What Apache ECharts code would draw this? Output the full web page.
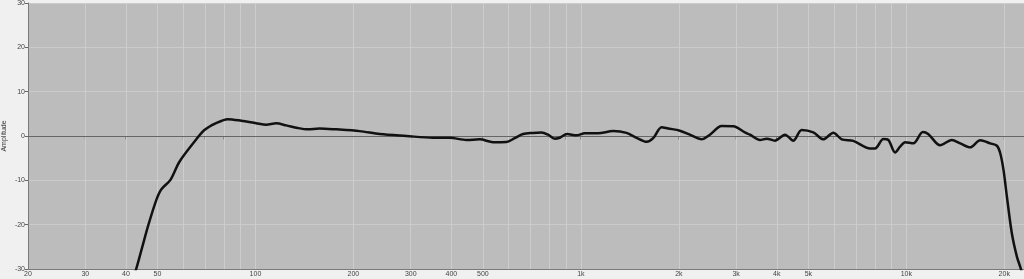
<!DOCTYPE html>
<html><head><meta charset="utf-8">
<script src="https://cdn.jsdelivr.net/npm/echarts@6/dist/echarts.min.js"></script>
<style>html,body{margin:0;padding:0;background:#f0f0f0}#c{width:1024px;height:279px}</style>
</head><body><div id="c"></div>
<script>
const freqs = [42, 43.0, 44.9, 46.9, 49.6, 51.4, 54.8, 58.4, 64.9, 69.7, 75.7, 82.2, 90.4, 100.5, 107.9, 115.8, 124.3, 134.9, 144.8, 157.4, 177, 209, 241, 291, 351, 395, 445, 489, 537, 590, 626, 664, 713, 756, 793, 831, 861, 907, 969, 1028, 1129, 1256, 1381, 1483, 1592, 1668, 1770, 1855, 2015, 2163, 2350, 2492, 2707, 2940, 3193, 3308, 3552, 3724, 3948, 4240, 4495, 4770, 5180, 5559, 5968, 6334, 6875, 7740, 8017, 8504, 8810, 9240, 9572, 9916, 10515, 11240, 11700, 12700, 13800, 14640, 15710, 16870, 18110, 18990, 19440, 19900, 20380, 21110, 21870, 22500, 23000];
const gains = [-32, -30, -25, -20, -14.4, -12, -9.9, -5.8, -1.3, 1.35, 2.9, 3.8, 3.45, 2.9, 2.55, 2.85, 2.4, 1.8, 1.5, 1.7, 1.5, 1.1, 0.45, 0, -0.4, -0.4, -0.9, -0.75, -1.4, -1.35, -0.5, 0.45, 0.7, 0.8, 0.3, -0.6, -0.4, 0.45, 0.15, 0.6, 0.6, 1.1, 0.7, -0.4, -1.3, -0.5, 2.0, 1.7, 1.2, 0.3, -0.75, 0.3, 2.25, 2.2, 0.8, 0.3, -0.9, -0.6, -1.05, 0.3, -1.05, 1.35, 0.8, -0.75, 0.75, -0.75, -1.1, -2.8, -2.8, -0.7, -0.9, -3.7, -2.4, -1.4, -1.65, 0.9, 0.4, -2.1, -0.9, -1.65, -2.55, -0.95, -1.65, -2.2, -3.9, -7.7, -13.7, -22, -27.2, -30, -33];
const gridFreqs = [30, 40, 50, 60, 70, 80, 90, 100, 200, 300, 400, 500, 600, 700, 800, 900, 1000, 2000, 3000, 4000, 5000, 6000, 7000, 8000, 9000, 10000, 20000];
const labelFreqs = [20, 30, 40, 50, 100, 200, 300, 400, 500, 1000, 2000, 3000, 4000, 5000, 10000, 20000];
const yMin = -30, yMax = 30, yStep = 10;

const fmt = v => v >= 1000 ? (Math.round(v / 100) / 10) + 'k' : String(Math.round(v));
const chart = echarts.init(document.getElementById('c'), null, {renderer: 'canvas'});
const font = 'Liberation Sans';
chart.setOption({
  animation: false,
  backgroundColor: '#f0f0f0',
  grid: {left: 28, right: 0, top: 3, bottom: 10, containLabel: false, outerBoundsMode: 'none', show: true, backgroundColor: '#bcbcbc', borderWidth: 0},
  xAxis: {
    type: 'log', logBase: 10, min: 20, max: 23000,
    axisLine: {onZero: false, lineStyle: {color: '#7a7a7a', width: 1}},
    axisTick: {show: false},
    splitLine: {show: false},
    axisLabel: {customValues: labelFreqs, formatter: fmt, fontSize: 7, fontFamily: font, color: '#444', margin: 2, showMinLabel: true, showMaxLabel: true}
  },
  yAxis: {
    type: 'value', min: yMin, max: yMax, interval: yStep,
    name: 'Amplitude', nameLocation: 'middle', nameGap: 20, nameMoveOverlap: false,
    nameTextStyle: {fontSize: 7, fontFamily: font, color: '#333'},
    axisLine: {show: true, lineStyle: {color: '#7a7a7a', width: 1}},
    axisTick: {show: true, length: 3, lineStyle: {color: '#666'}},
    axisLabel: {fontSize: 7, fontFamily: font, color: '#444', margin: 3},
    splitLine: {show: true, lineStyle: {color: '#cbcbcb', width: 1}}
  },
  series: [
    {
      type: 'line', data: [], silent: true,
      markLine: {
        silent: true, symbol: 'none', animation: false,
        label: {show: false},
        lineStyle: {color: '#cdcdcd', width: 1, type: 'solid'},
        data: gridFreqs.map(f => ({xAxis: f}))
      }
    },
    {
      type: 'line', data: [], silent: true,
      markLine: {
        silent: true, symbol: 'none', animation: false,
        label: {show: false},
        lineStyle: {color: '#666', width: 1, type: 'solid'},
        data: [{yAxis: 0}]
      }
    },
    {
      type: 'scatter', silent: true, symbol: 'rect', symbolSize: [1, 3], symbolOffset: [0, 2],
      itemStyle: {color: '#555'},
      data: gridFreqs.map(f => [f, 0])
    },
    {
      type: 'line', silent: true, showSymbol: false, smooth: 0.3,
      lineStyle: {color: '#111', width: 2.5},
      data: freqs.map((f, i) => [f, gains[i]]),
      z: 10
    }
  ]
});
</script></body></html>
